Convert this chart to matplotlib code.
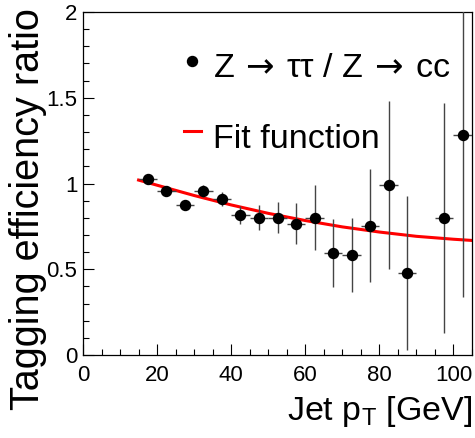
import matplotlib
matplotlib.use("Agg")
import matplotlib.pyplot as plt
from matplotlib.ticker import MultipleLocator

plt.rcParams['font.family'] = ['Liberation Sans', 'DejaVu Sans']
plt.rcParams['mathtext.fontset'] = 'custom'
plt.rcParams['mathtext.rm'] = 'Liberation Sans'
plt.rcParams['mathtext.it'] = 'Liberation Sans:italic'

# --- datos ---
jet_pt = [17.5, 22.5, 27.5, 32.5, 37.5, 42.5, 47.5, 52.5, 57.5, 62.5,
          67.5, 72.5, 77.5, 82.5, 87.5, 97.5, 102.5]
ratio = [1.027, 0.957, 0.872, 0.957, 0.91, 0.817, 0.80, 0.80, 0.765, 0.80,
         0.594, 0.584, 0.753, 0.99, 0.48, 0.80, 1.284]
ratio_err = [0.025, 0.03, 0.02, 0.037, 0.04, 0.053, 0.073, 0.09, 0.12, 0.19,
             0.20, 0.215, 0.33, 0.49, 0.45, 0.67, 0.945]
bin_half = [2.5] * len(jet_pt)

# curva de ajuste (leída punto a punto)
fit_x = [15, 20, 30, 40, 50, 60, 70, 80, 90, 100, 105]
fit_y = [1.02, 0.99, 0.93, 0.875, 0.826, 0.784, 0.747, 0.717, 0.692, 0.675, 0.668]

fig = plt.figure(figsize=(4.75, 4.38), dpi=100)
ax = fig.add_axes([83/475, 1 - 355/438, 389/475, 343/438])

ax.plot(fit_x, fit_y, color='red', lw=2.2, zorder=2)
ax.errorbar(jet_pt, ratio, yerr=ratio_err, xerr=bin_half, fmt='o', color='black',
            ecolor='#444444', elinewidth=1.0, markersize=7.2, capsize=0, zorder=3)

ax.set_xlim(0, 105)
ax.set_ylim(0, 2)
ax.xaxis.set_major_locator(MultipleLocator(20))
ax.xaxis.set_minor_locator(MultipleLocator(5))
ax.yaxis.set_major_locator(MultipleLocator(0.5))
ax.yaxis.set_minor_locator(MultipleLocator(0.1))
ax.set_yticks([0, 0.5, 1, 1.5, 2], ['0', '0.5', '1', '1.5', '2'])
ax.tick_params(which='both', direction='in', top=False, right=False, width=0.8)
ax.tick_params(which='major', length=8, labelsize=16)
ax.tick_params(which='minor', length=4)
ax.tick_params(axis='x', pad=7)
ax.tick_params(axis='y', pad=4)
for s in ax.spines.values():
    s.set_linewidth(0.9)

# leyenda dibujada a mano (posiciones como en ROOT)
ax.plot([0.280], [0.857], 'o', color='black', markersize=7.2, transform=ax.transAxes, clip_on=False)
ax.text(0.334, 0.8105, r'Z$\,\rightarrow\,$ττ / Z$\,\rightarrow\,$cc', transform=ax.transAxes,
        fontsize=24.5, va='baseline', math_fontfamily='dejavusans')
ax.plot([0.2596, 0.3033], [0.653, 0.653], color='red', lw=2.2, transform=ax.transAxes)
ax.text(0.334, 0.6035, 'Fit function', transform=ax.transAxes, fontsize=24.5, va='baseline')

fig.text(9/475, 1 - 8/438, 'Tagging efficiency ratio', rotation=90, ha='left', va='top', fontsize=28.5)
fig.text(472/475, 1 - 420/438, r'Jet p$_{\mathrm{T}}$ [GeV]', ha='right', va='baseline', fontsize=24.5)

fig.savefig('out.png', dpi=100)
